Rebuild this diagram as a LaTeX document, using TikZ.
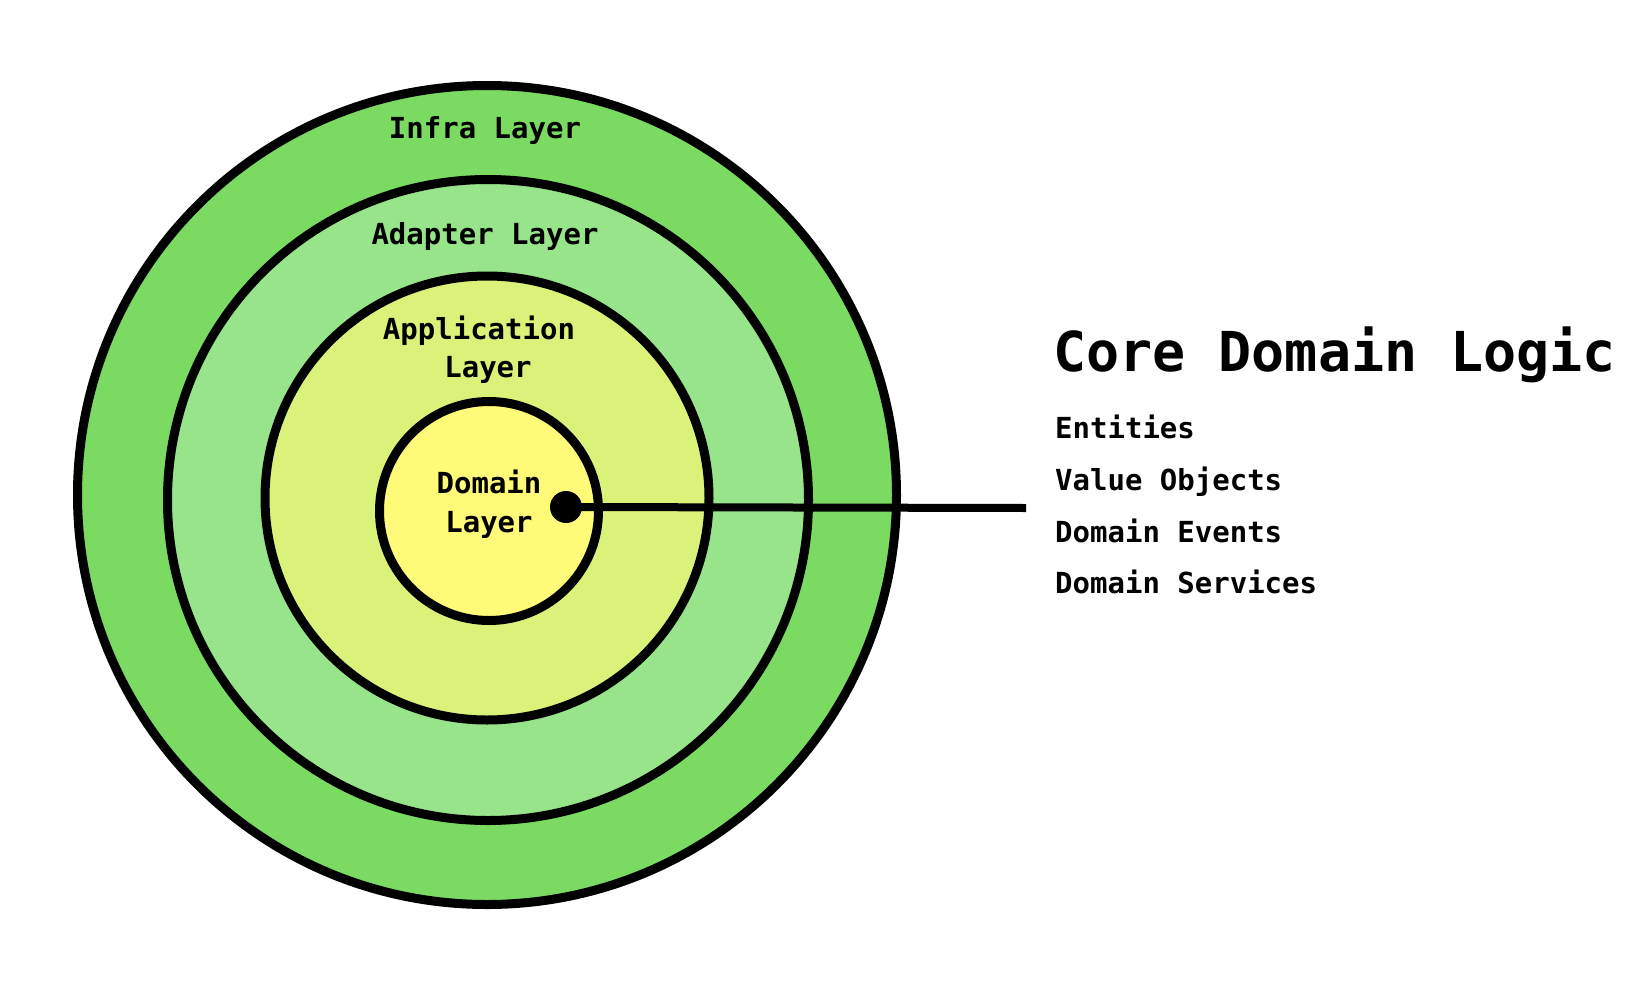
\documentclass[tikz,border=0pt]{standalone}
\usepackage{fontspec}
\newfontfamily\monob{DejaVu Sans Mono}[BoldFont={DejaVu Sans Mono Bold}]
\definecolor{infracol}{HTML}{7BDA62}
\definecolor{adaptcol}{HTML}{98E48A}
\definecolor{appcol}{HTML}{DBF27A}
\definecolor{domcol}{HTML}{FFFB78}
\tikzset{
  ring/.style={circle, draw=black, line width=9pt, inner sep=0pt, outer sep=0pt},
  lbl/.style={anchor=base, inner sep=0pt, font=\monob\bfseries\fontsize{29}{35}\selectfont},
  item/.style={anchor=base west, inner sep=0pt, font=\monob\bfseries\fontsize{29}{35}\selectfont},
  title/.style={anchor=base west, inner sep=0pt, font=\monob\bfseries\fontsize{55}{66}\selectfont}
}
\begin{document}
\begin{tikzpicture}[x=1pt, y=-1pt]
\useasboundingbox (0,0) rectangle (1644,996);
\node[ring, fill=infracol, minimum size=819pt] (infra) at (487,495) {};
\node[ring, fill=adaptcol, minimum size=641pt] (adapter) at (488,500) {};
\node[ring, fill=appcol, minimum size=444pt] (app) at (487,498) {};
\node[ring, fill=domcol, minimum size=219pt] (domain) at (489,511) {};

\node[lbl] (infralbl) at (485,138) {Infra Layer};
\node[lbl] (adaptlbl) at (485,244) {Adapter Layer};
\node[lbl] (applbla) at (479,339) {Application};
\node[lbl] (applblb) at (488,377) {Layer};
\node[lbl] (domlbla) at (489,493) {Domain};
\node[lbl] (domlblb) at (489,532) {Layer};

\coordinate (lineend) at (1026,508);
\node[circle, fill=black, inner sep=0pt, minimum size=32pt] (dot) at (566,507) {};
\draw[line width=8pt] (dot.center) -- (lineend);

\node[title] (core) at (1053,371) {Core Domain Logic};
\node[item] (ent) at (1055,438) {Entities};
\node[item] (vo) at (1055,490) {Value Objects};
\node[item] (de) at (1055,542) {Domain Events};
\node[item] (ds) at (1055,593) {Domain Services};
\end{tikzpicture}
\end{document}
